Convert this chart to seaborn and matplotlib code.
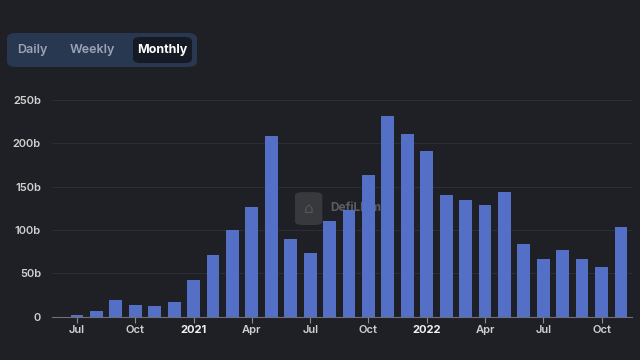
import pandas as pd
import matplotlib.pyplot as plt
import seaborn as sns
from matplotlib.patches import FancyBboxPatch

# monthly volume, Jul 2020 .. Nov 2022 (billions)
months = pd.date_range('2020-07-01', '2022-11-01', freq='MS')
volume = [2, 6, 19, 13, 12, 17,
          42, 71, 100, 126, 208, 90, 73, 110, 123, 163, 231, 211,
          191, 140, 135, 129, 144, 84, 67, 77, 66, 57, 104]
y_ticks = [0, 50, 100, 150, 200, 250]
y_labels = ['0', '50b', '100b', '150b', '200b', '250b']
tick_months = {'2020-07': 'Jul', '2020-10': 'Oct', '2021-01': '2021', '2021-04': 'Apr',
               '2021-07': 'Jul', '2021-10': 'Oct', '2022-01': '2022', '2022-04': 'Apr',
               '2022-07': 'Jul', '2022-10': 'Oct'}

df = pd.DataFrame({'month': months.strftime('%Y-%m'), 'volume': volume})

bg = '#1f2025'
sns.set_theme(style='dark')
plt.rcParams['font.family'] = ['Inter', 'DejaVu Sans']

fig = plt.figure(figsize=(6.4, 3.6), dpi=100, facecolor=bg)
ax = fig.add_axes([52 / 640, 1 - 316.7 / 360, 580 / 640, 216.7 / 360])
ax.set_facecolor(bg)

sns.barplot(data=df, x='month', y='volume', color='#5470c6', saturation=1,
            width=0.66, linewidth=0, edgecolor='none', ax=ax, zorder=3)

ax.set_xlim(-1.29, 28.57)
ax.set_ylim(0, 250)
ax.set_yticks(y_ticks)
ax.set_yticklabels(y_labels)
for y in y_ticks[1:]:
    ax.axhline(y, color='#2c2e35', lw=0.8, zorder=1)

pos = [i for i, m in enumerate(df['month']) if m in tick_months]
ax.set_xticks(pos)
ax.set_xticklabels([tick_months[df['month'][i]] for i in pos])
for lbl in ax.get_xticklabels():
    if lbl.get_text().startswith('20'):
        lbl.set_fontweight('bold')
        lbl.set_color('#f2f2f2')
    else:
        lbl.set_fontweight('semibold')
        lbl.set_color('#d0d0d0')
for lbl in ax.get_yticklabels():
    lbl.set_fontweight('semibold')
    lbl.set_color('#d0d0d0')
ax.tick_params(axis='x', length=4, width=0.8, color='#8a8d95', labelsize=8, pad=2, bottom=True)
ax.tick_params(axis='y', length=0, labelsize=8, pad=8)
ax.set_xlabel('')
ax.set_ylabel('')

for s in ['top', 'right', 'left']:
    ax.spines[s].set_visible(False)
ax.spines['bottom'].set_color('#6e7079')
ax.spines['bottom'].set_linewidth(0.8)
ax.spines['bottom'].set_zorder(4)

# watermark
ax.text(0.479, 0.5, 'DefiLlama', transform=ax.transAxes, color='#5c5d62',
        fontsize=8.5, fontweight='bold', ha='left', va='center', zorder=2)
ax.add_patch(FancyBboxPatch((0.419, 0.423), 0.047, 0.152, transform=ax.transAxes,
                            boxstyle='round,pad=0,rounding_size=0.015',
                            fc='#38393d', ec='none', zorder=2))
ax.text(0.4425, 0.5, '\u2302', transform=ax.transAxes, color='#55565a',
        fontsize=11, ha='center', va='center', zorder=2)

# period toggle
fig.patches.append(FancyBboxPatch((7 / 640, 1 - 67 / 360), 190 / 640, 34 / 360,
                                  boxstyle='round,pad=0,rounding_size=0.015',
                                  transform=fig.transFigure, fc='#283850', ec='none'))
fig.patches.append(FancyBboxPatch((133 / 640, 1 - 63 / 360), 59 / 640, 26 / 360,
                                  boxstyle='round,pad=0,rounding_size=0.012',
                                  transform=fig.transFigure, fc='#151a24', ec='none'))
fig.text(32 / 640, 1 - 50 / 360, 'Daily', color='#9aa4b5', fontsize=9,
         fontweight='semibold', ha='center', va='center')
fig.text(92 / 640, 1 - 50 / 360, 'Weekly', color='#9aa4b5', fontsize=9,
         fontweight='semibold', ha='center', va='center')
fig.text(162 / 640, 1 - 50 / 360, 'Monthly', color='#ffffff', fontsize=9,
         fontweight='bold', ha='center', va='center')

fig.savefig('out.png', dpi=100, facecolor=bg)
